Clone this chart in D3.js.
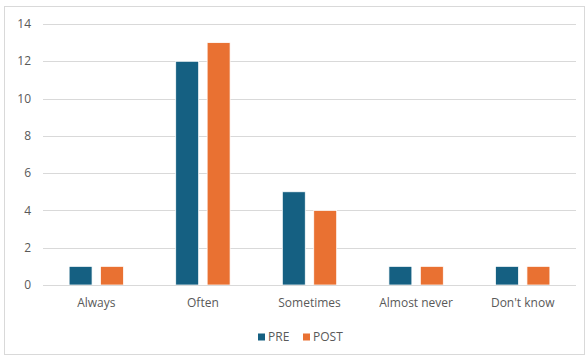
<!DOCTYPE html>
<html>
<head>
<meta charset="utf-8">
<script src="https://cdn.jsdelivr.net/npm/d3@7"></script>
<style>
  html, body { margin: 0; padding: 0; background: #fff; }
  svg { display: block; font-family: "Open Sans", "Liberation Sans", sans-serif; }
</style>
</head>
<body>
<svg id="chart" width="588" height="358"></svg>
<script>
// Survey responses before and after
const categories = ["Always", "Often", "Sometimes", "Almost never", "Don't know"];
const seriesNames = ["PRE", "POST"];
const preValues = [1, 12, 5, 1, 1];
const postValues = [1, 13, 4, 1, 1];
const yTicks = [0, 2, 4, 6, 8, 10, 12, 14];
const colors = ["#156082", "#E97132"];

const svg = d3.select("#chart");
const W = 588, H = 358;
const margin = { left: 43, right: 12, top: 24, bottom: 73 };

// outer chart frame
svg.append("rect")
  .attr("x", 4.5).attr("y", 6.5)
  .attr("width", W - 8).attr("height", H - 10)
  .attr("fill", "#fff").attr("stroke", "#d9d9d9").attr("stroke-width", 1);

const x = d3.scaleBand()
  .domain(categories)
  .range([margin.left, W - margin.right])
  .paddingInner(0.49).paddingOuter(0.245);

const xs = d3.scaleBand()
  .domain(seriesNames)
  .range([0, x.bandwidth()])
  .paddingInner(0.27);

const y = d3.scaleLinear()
  .domain([0, 14])
  .range([H - margin.bottom, margin.top]);

// horizontal gridlines
svg.append("g")
  .selectAll("line")
  .data(yTicks.filter(d => d !== 0))
  .join("line")
  .attr("x1", margin.left).attr("x2", W - margin.right)
  .attr("y1", d => Math.round(y(d)) + 0.5).attr("y2", d => Math.round(y(d)) + 0.5)
  .attr("stroke", "#d9d9d9").attr("stroke-width", 1);

// y tick labels
svg.append("g")
  .selectAll("text")
  .data(yTicks)
  .join("text")
  .attr("x", 31)
  .attr("y", d => y(d))
  .attr("dy", "0.35em")
  .attr("text-anchor", "end")
  .attr("fill", "#595959")
  .attr("font-size", 12)
  .text(d => d);

const rows = categories.map((c, i) => ({ cat: c, values: [preValues[i], postValues[i]] }));

// bars
const groups = svg.append("g")
  .selectAll("g")
  .data(rows)
  .join("g")
  .attr("transform", d => `translate(${x(d.cat)},0)`);

groups.selectAll("rect")
  .data(d => d.values.map((v, j) => ({ key: seriesNames[j], v, j })))
  .join("rect")
  .attr("x", d => xs(d.key))
  .attr("y", d => y(d.v))
  .attr("width", xs.bandwidth())
  .attr("height", d => y(0) - y(d.v))
  .attr("fill", d => colors[d.j])
  .attr("stroke", "#fff").attr("stroke-width", 0.75);

// baseline
svg.append("line")
  .attr("x1", margin.left).attr("x2", W - margin.right)
  .attr("y1", Math.round(y(0)) + 0.5).attr("y2", Math.round(y(0)) + 0.5)
  .attr("stroke", "#d9d9d9").attr("stroke-width", 1);

// category labels
svg.append("g")
  .selectAll("text")
  .data(categories)
  .join("text")
  .attr("x", d => x(d) + x.bandwidth() / 2)
  .attr("y", y(0) + 22)
  .attr("text-anchor", "middle")
  .attr("fill", "#595959")
  .attr("font-size", 12)
  .text(d => d);

// legend
const legend = svg.append("g").attr("transform", "translate(258,337)");
const legendPos = [0, 45];
seriesNames.forEach((name, i) => {
  const g = legend.append("g").attr("transform", `translate(${legendPos[i]},0)`);
  g.append("rect").attr("x", 0).attr("y", -3.5).attr("width", 7).attr("height", 7).attr("fill", colors[i]);
  g.append("text").attr("x", 10).attr("y", 0).attr("dy", "0.35em")
    .attr("fill", "#595959").attr("font-size", 12).text(name);
});
</script>
</body>
</html>
